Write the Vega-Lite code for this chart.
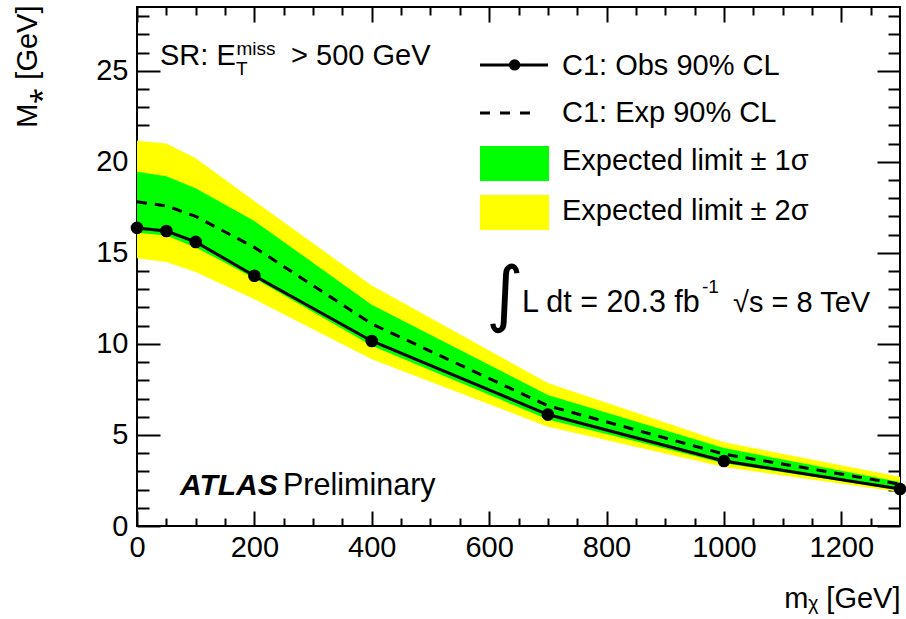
{
  "$schema": "https://vega.github.io/schema/vega-lite/v6.json",
  "width": 763,
  "height": 519,
  "autosize": {"type": "none"},
  "padding": {"left": 137, "top": 7, "right": 6, "bottom": 93},
  "background": "white",
  "config": {
    "view": {"stroke": "black", "strokeWidth": 2},
    "font": "Liberation Sans",
    "axis": {
      "domain": false, "grid": false,
      "labelFont": "Liberation Sans", "labelFontSize": 29, "labelColor": "black",
      "titleFont": "Liberation Sans", "titleFontSize": 29, "titleFontWeight": "normal", "titleColor": "black",
      "tickColor": "black", "tickWidth": 2
    },
    "text": {"font": "Liberation Sans", "color": "black", "align": "left", "baseline": "alphabetic"}
  },
  "datasets": {
    "limits": [
      {"x": 0, "obs": 16.37, "exp": 17.8, "m1": 16.1, "p1": 19.45, "m2": 14.7, "p2": 21.15},
      {"x": 50, "obs": 16.2, "exp": 17.58, "m1": 15.95, "p1": 19.2, "m2": 14.5, "p2": 21.0},
      {"x": 100, "obs": 15.6, "exp": 17.0, "m1": 15.3, "p1": 18.55, "m2": 13.95, "p2": 20.2},
      {"x": 200, "obs": 13.74, "exp": 15.3, "m1": 13.6, "p1": 16.75, "m2": 12.45, "p2": 17.85},
      {"x": 400, "obs": 10.16, "exp": 11.1, "m1": 9.9, "p1": 12.15, "m2": 9.15, "p2": 13.2},
      {"x": 700, "obs": 6.12, "exp": 6.6, "m1": 5.85, "p1": 7.2, "m2": 5.45, "p2": 7.85},
      {"x": 1000, "obs": 3.57, "exp": 3.95, "m1": 3.45, "p1": 4.28, "m2": 3.24, "p2": 4.6},
      {"x": 1300, "obs": 2.03, "exp": 2.3, "m1": 1.98, "p1": 2.42, "m2": 1.87, "p2": 2.7}
    ]
  },
  "resolve": {"axis": {"x": "independent", "y": "independent"}},
  "layer": [
    {
      "data": {"name": "limits"},
      "mark": {"type": "area", "color": "#ffff00", "opacity": 1},
      "encoding": {
        "x": {"field": "x", "type": "quantitative",
              "scale": {"domain": [0, 1300], "nice": false, "zero": false},
              "axis": {"orient": "bottom", "values": [0, 200, 400, 600, 800, 1000, 1200], "format": "d", "ticks": false, "labelPadding": 7, "labelFlush": false,
                       "title": "mᵪ [GeV]", "titleAnchor": "end", "titleAlign": "right", "titleBaseline": "alphabetic", "titleX": 763, "titleY": 81}},
        "y": {"field": "p2", "type": "quantitative",
              "scale": {"domain": [0, 28.5], "nice": false, "zero": false},
              "axis": {"orient": "left", "values": [0, 5, 10, 15, 20, 25], "ticks": false, "labelPadding": 9, "labelFlush": false,
                       "title": "M⁎ [GeV]", "titleAngle": -90, "titleAnchor": "end", "titleAlign": "right", "titleBaseline": "alphabetic", "titleX": -101, "titleY": -2}},
        "y2": {"field": "m2"}
      }
    },
    {
      "data": {"name": "limits"},
      "mark": {"type": "area", "color": "#00ff00", "opacity": 1},
      "encoding": {
        "x": {"field": "x", "type": "quantitative",
              "axis": {"orient": "bottom", "values": [0, 200, 400, 600, 800, 1000, 1200], "labels": false, "tickSize": -15, "title": null}},
        "y": {"field": "p1", "type": "quantitative",
              "axis": {"orient": "left", "values": [0, 5, 10, 15, 20, 25], "labels": false, "tickSize": -23, "title": null}},
        "y2": {"field": "m1"}
      }
    },
    {
      "data": {"name": "limits"},
      "mark": {"type": "line", "color": "black", "strokeWidth": 3, "strokeDash": [10, 8]},
      "encoding": {
        "x": {"field": "x", "type": "quantitative",
              "axis": {"orient": "bottom", "values": [50, 100, 150, 250, 300, 350, 450, 500, 550, 650, 700, 750, 850, 900, 950, 1050, 1100, 1150, 1250], "labels": false, "tickSize": -8, "title": null}},
        "y": {"field": "exp", "type": "quantitative",
              "axis": {"orient": "left", "values": [1, 2, 3, 4, 6, 7, 8, 9, 11, 12, 13, 14, 16, 17, 18, 19, 21, 22, 23, 24, 26, 27, 28], "labels": false, "tickSize": -12, "title": null}}
      }
    },
    {
      "data": {"name": "limits"},
      "mark": {"type": "line", "color": "black", "strokeWidth": 3},
      "encoding": {
        "x": {"field": "x", "type": "quantitative",
              "axis": {"orient": "top", "values": [0, 200, 400, 600, 800, 1000, 1200], "labels": false, "tickSize": -15, "title": null}},
        "y": {"field": "obs", "type": "quantitative",
              "axis": {"orient": "right", "values": [0, 5, 10, 15, 20, 25], "labels": false, "tickSize": -23, "title": null}}
      }
    },
    {
      "data": {"name": "limits"},
      "mark": {"type": "point", "filled": true, "color": "black", "size": 160, "opacity": 1, "clip": false},
      "encoding": {
        "x": {"field": "x", "type": "quantitative",
              "axis": {"orient": "top", "values": [50, 100, 150, 250, 300, 350, 450, 500, 550, 650, 700, 750, 850, 900, 950, 1050, 1100, 1150, 1250], "labels": false, "tickSize": -8, "title": null}},
        "y": {"field": "obs", "type": "quantitative",
              "axis": {"orient": "right", "values": [1, 2, 3, 4, 6, 7, 8, 9, 11, 12, 13, 14, 16, 17, 18, 19, 21, 22, 23, 24, 26, 27, 28], "labels": false, "tickSize": -12, "title": null}}
      }
    },
    {
      "data": {"values": [{"x": 584.4, "x2": 702, "y": 20.87, "y2": 18.95}]},
      "mark": {"type": "rect", "color": "#00ff00"},
      "encoding": {
        "x": {"field": "x", "type": "quantitative", "axis": null}, "x2": {"field": "x2"},
        "y": {"field": "y", "type": "quantitative", "axis": null}, "y2": {"field": "y2"}
      }
    },
    {
      "data": {"values": [{"x": 584.4, "x2": 702, "y": 18.18, "y2": 16.25}]},
      "mark": {"type": "rect", "color": "#ffff00"},
      "encoding": {
        "x": {"field": "x", "type": "quantitative", "axis": null}, "x2": {"field": "x2"},
        "y": {"field": "y", "type": "quantitative", "axis": null}, "y2": {"field": "y2"}
      }
    },
    {
      "data": {"values": [{"x": 584.4, "y": 25.32}, {"x": 700.3, "y": 25.32}]},
      "mark": {"type": "line", "color": "black", "strokeWidth": 3},
      "encoding": {
        "x": {"field": "x", "type": "quantitative", "axis": null},
        "y": {"field": "y", "type": "quantitative", "axis": null}
      }
    },
    {
      "data": {"values": [{"x": 643.4, "y": 25.32}]},
      "mark": {"type": "point", "filled": true, "color": "black", "size": 130, "opacity": 1},
      "encoding": {
        "x": {"field": "x", "type": "quantitative", "axis": null},
        "y": {"field": "y", "type": "quantitative", "axis": null}
      }
    },
    {
      "data": {"values": [{"x": 584.4, "y": 22.68}, {"x": 686.6, "y": 22.68}]},
      "mark": {"type": "line", "color": "black", "strokeWidth": 3, "strokeDash": [10, 10]},
      "encoding": {
        "x": {"field": "x", "type": "quantitative", "axis": null},
        "y": {"field": "y", "type": "quantitative", "axis": null}
      }
    },
    {
      "data": {"values": [
        {"x": 39.2, "y": 25.32, "text": "SR: E"},
        {"x": 262.4, "y": 25.32, "text": "> 500 GeV"},
        {"x": 724.1, "y": 24.77, "text": "C1: Obs 90% CL"},
        {"x": 724.1, "y": 22.19, "text": "C1: Exp 90% CL"},
        {"x": 724.1, "y": 19.55, "text": "Expected limit ± 1σ"},
        {"x": 724.1, "y": 16.80, "text": "Expected limit ± 2σ"},
        {"x": 1015.5, "y": 11.75, "text": "√s = 8 TeV"}
      ]},
      "mark": {"type": "text", "fontSize": 29},
      "encoding": {
        "x": {"field": "x", "type": "quantitative", "axis": null},
        "y": {"field": "y", "type": "quantitative", "axis": null},
        "text": {"field": "text"}
      }
    },
    {
      "data": {"values": [{"x": 656.0, "y": 11.75, "text": "L dt = 20.3 fb"}]},
      "mark": {"type": "text", "fontSize": 30.5},
      "encoding": {
        "x": {"field": "x", "type": "quantitative", "axis": null},
        "y": {"field": "y", "type": "quantitative", "axis": null},
        "text": {"field": "text"}
      }
    },
    {
      "data": {"values": [
        {"x": 168.7, "y": 24.77, "text": "T"},
        {"x": 169.5, "y": 25.87, "text": "miss"},
        {"x": 962.7, "y": 12.8, "text": "-1"}
      ]},
      "mark": {"type": "text", "fontSize": 19},
      "encoding": {
        "x": {"field": "x", "type": "quantitative", "axis": null},
        "y": {"field": "y", "type": "quantitative", "axis": null},
        "text": {"field": "text"}
      }
    },
    {
      "data": {"values": [{"x": 73.3, "y": 1.70, "text": "ATLAS"}]},
      "mark": {"type": "text", "fontSize": 30, "fontWeight": "bold", "fontStyle": "italic"},
      "encoding": {
        "x": {"field": "x", "type": "quantitative", "axis": null},
        "y": {"field": "y", "type": "quantitative", "axis": null},
        "text": {"field": "text"}
      }
    },
    {
      "data": {"values": [{"x": 248.8, "y": 1.70, "text": "Preliminary"}]},
      "mark": {"type": "text", "fontSize": 30.5},
      "encoding": {
        "x": {"field": "x", "type": "quantitative", "axis": null},
        "y": {"field": "y", "type": "quantitative", "axis": null},
        "text": {"field": "text"}
      }
    },
    {
      "data": {"values": [{"x": 594.7, "y": 11.42, "text": "∫"}]},
      "mark": {"type": "text", "fontSize": 72, "font": "DejaVu Sans"},
      "encoding": {
        "x": {"field": "x", "type": "quantitative", "axis": null},
        "y": {"field": "y", "type": "quantitative", "axis": null},
        "text": {"field": "text"}
      }
    }
  ]
}
